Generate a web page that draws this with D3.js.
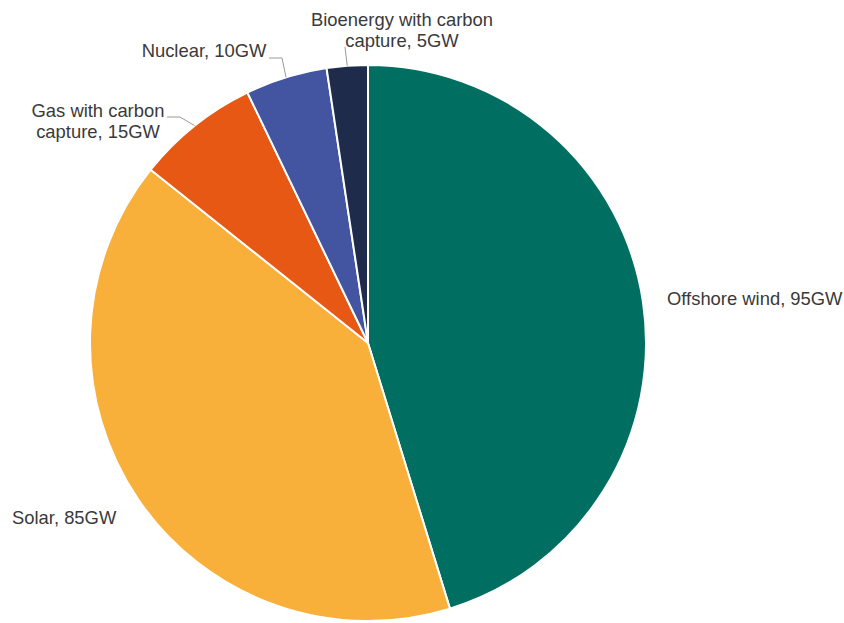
<!DOCTYPE html>
<html>
<head>
<meta charset="utf-8">
<script src="https://cdn.jsdelivr.net/npm/d3@7"></script>
<style>
  body { margin: 0; background: #fff; }
  text { font-family: "Liberation Sans", Arial, sans-serif; }
</style>
</head>
<body>
<svg></svg>
<script>
// the chart's data: capacity in GW by technology
const categories = ['Offshore wind', 'Solar', 'Gas with carbon capture', 'Nuclear', 'Bioenergy with carbon capture'];
const values = [95, 85, 15, 10, 5];
const colors = ['#006e61', '#f8b03b', '#e85815', '#4354a1', '#1e2b4b'];

const size = {w: 844, h: 623};
const pie = {cx: 368, cy: 343, r: 278};

// label layout (lines, position of first baseline, anchor, optional connector elbow)
const labelLayout = [
  {lines: ['Offshore wind, 95GW'], x: 667, y: 305, anchor: 'start'},
  {lines: ['Solar, 85GW'], x: 12, y: 524, anchor: 'start'},
  {lines: ['Gas with carbon', 'capture, 15GW'], x: 98, y: 117, anchor: 'middle', elbow: [180, 117], end: [167, 117]},
  {lines: ['Nuclear, 10GW'], x: 204, y: 57, anchor: 'middle', elbow: [282, 58], end: [269, 58]},
  {lines: ['Bioenergy with carbon', 'capture, 5GW'], x: 402, y: 26, anchor: 'middle', elbow: [345, 47], end: [345, 47]}
];

const svg = d3.select('svg')
    .attr('width', size.w)
    .attr('height', size.h);

const data = categories.map((c, i) => ({name: c, value: values[i], color: colors[i], label: labelLayout[i]}));

const pieGen = d3.pie()
    .value(d => d.value)
    .sort(null);

const arcs = pieGen(data);

const arc = d3.arc()
    .innerRadius(0)
    .outerRadius(pie.r);

// arc on the rim, used to find where connectors touch the pie
const rimArc = d3.arc()
    .innerRadius(pie.r)
    .outerRadius(pie.r);

const g = svg.append('g')
    .attr('transform', `translate(${pie.cx},${pie.cy})`);

g.selectAll('path.slice')
    .data(arcs)
    .enter()
    .append('path')
    .classed('slice', true)
    .attr('d', arc)
    .style('fill', d => d.data.color)
    .style('stroke', '#fff')
    .style('stroke-width', 2)
    .style('stroke-linejoin', 'round');

// connectors
arcs.forEach(function (a) {
  const lab = a.data.label;
  if (!lab.elbow) return;
  const c = rimArc.centroid(a);
  const p0 = [pie.cx + c[0], pie.cy + c[1]];
  const line = d3.line();
  svg.append('path')
      .attr('d', line([p0, lab.elbow, lab.end]))
      .style('fill', 'none')
      .style('stroke', '#999')
      .style('stroke-width', 1);
});

// labels
const labelSel = svg.selectAll('text.label')
    .data(arcs)
    .enter()
    .append('text')
    .classed('label', true)
    .attr('x', d => d.data.label.x)
    .attr('y', d => d.data.label.y)
    .attr('text-anchor', d => d.data.label.anchor)
    .style('font-size', '18.4px')
    .style('fill', '#3a3a3a');

labelSel.each(function (d) {
  const t = d3.select(this);
  d.data.label.lines.forEach(function (ln, i) {
    t.append('tspan')
        .attr('x', d.data.label.x)
        .attr('dy', i === 0 ? 0 : 21)
        .text(ln);
  });
});
</script>
</body>
</html>
